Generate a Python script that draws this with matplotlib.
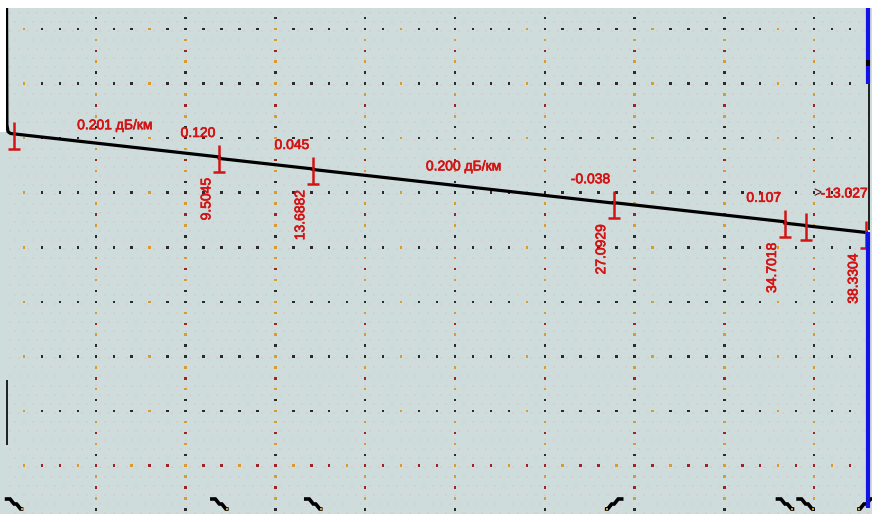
import numpy as np
import matplotlib
matplotlib.use("Agg")
import matplotlib.pyplot as plt
import matplotlib.patheffects as pe
from matplotlib.lines import Line2D
from matplotlib.patches import Rectangle

# ---------------- data ----------------
# launch part of the trace (km, dB)
launch_km = [0.02, 0.04, 0.09, 0.20]
launch_db = [3.0, -9.3, -9.85, -10.0]

# events along the fibre
event_km = [0.36, 9.5045, 13.6882, 27.0929, 34.7018, 35.62, 38.3304]
event_loss = [0.0, 0.120, 0.045, -0.038, 0.107, 0.020, 0.0]
# attenuation of the span that ends at each event (dB/km)
section_att = [0.201, 0.201, 0.200, 0.200, 0.200, 0.200, 0.200]
tail_att = 0.200

loss_idx = [1, 2, 3, 4]
loss_text = ["0.120", "0.045", "-0.038", "0.107"]
dist_idx = [1, 2, 3, 4, 6]
dist_text = ["9.5045", "13.6882", "27.0929", "34.7018", "38.3304"]
span_labels = ["0.201 дБ/км", "0.200 дБ/км"]
span_bounds = [(0.20, 9.5045), (13.6882, 27.0929)]
refl_idx = 5
refl_sign = ">"
refl_text = "-13.027"
gain_events = [3, 6]

# ---------------- layout ----------------
W, H = 872, 514
X_END = 38.40          # km at right edge
Y_TOP, Y_BOT = 0.0, -40.32
bg = "#cedcdc"
red = "#d41414"
dark = "#2a2a2a"
orange = "#d99a30"
dred = "#9c2424"
FONT = dict(fontsize=10, family="Liberation Sans")
thick = [pe.withStroke(linewidth=0.5, foreground=red)]

fig = plt.figure(figsize=(W / 100, H / 100), dpi=100, facecolor=bg)
ax = fig.add_axes([6 / W, 0, 862 / W, 506 / H])
ax.set_facecolor(bg)
ax.set_xlim(0, X_END)
ax.set_ylim(Y_BOT, Y_TOP)
ax.set_xticks([])
ax.set_yticks([])
for s in ax.spines.values():
    s.set_visible(False)

px_km = 862 / X_END           # pixels per km
px_db = 506 / (Y_TOP - Y_BOT)  # pixels per dB
PT = 0.72                      # points per pixel


def dx(p):
    return p / px_km


def dy(p):
    return p / px_db


# white strips at top / top-left
fig.patches.append(Rectangle((0, 1 - 8 / H), 1, 8 / H, transform=fig.transFigure,
                             facecolor="white", edgecolor="none", zorder=0))
fig.patches.append(Rectangle((0, 1 - 132 / H), 6 / W, 132 / H, transform=fig.transFigure,
                             facecolor="white", edgecolor="none", zorder=0))

# ---------------- grid of dots ----------------
# faint background lattice
fx = np.arange(0.2, X_END, 0.4)
fy = np.arange(Y_TOP - 0.36, Y_BOT, -0.725)
FX, FY = [], []
for j, yy in enumerate(fy):
    off = 0.2 if j % 2 else 0.0
    FX.extend(fx + off)
    FY.extend([yy] * len(fx))
ax.scatter(FX, FY, s=0.6, marker="s", color="#d8cdd0", linewidths=0, zorder=1)

grid_x = np.arange(4, X_END, 4)
grid_y0 = -1.67
grid_dy = 4.35
grid_y = grid_y0 - grid_dy * np.arange(0, 9)

# dotted vertical lines
col_cycle = [dark, orange, dred, orange, dark]
ks = np.arange(-2, 46)
vy = grid_y0 - ks * grid_dy / 5
vmask = (vy <= Y_TOP) & (vy >= Y_BOT)
vy = vy[vmask]
vcols = [col_cycle[k % 5] for k in ks[vmask]]
for gx in grid_x:
    ax.scatter([gx] * len(vy), vy, s=3.2, marker="s", c=vcols, linewidths=0, zorder=2)

# dotted horizontal lines
hx = np.arange(0.8, X_END, 0.8)
hcols = [orange if (i % 7 == 0) else dark for i in range(len(hx))]
for j, gy in enumerate(grid_y):
    cols = hcols if j < 8 else [dred if i % 3 else orange for i in range(len(hx))]
    ax.scatter(hx, [gy] * len(hx), s=3.2, marker="s", c=cols, linewidths=0, zorder=2)

# ---------------- trace ----------------
tr_km = list(launch_km)
tr_db = list(launch_db)
level = launch_db[-1]
prev = launch_km[-1]
pre_level, post_level = [], []
for km, loss, att in zip(event_km, event_loss, section_att):
    level -= att * (km - prev)
    tr_km.append(km); tr_db.append(level)
    pre_level.append(level)
    level -= loss
    tr_km.append(km); tr_db.append(level)
    post_level.append(level)
    prev = km
level -= tail_att * (X_END - prev)
tr_km.append(X_END); tr_db.append(level)

ax.plot(tr_km, tr_db, color="black", lw=2.3, solid_joinstyle="miter", zorder=5)


def trace_at(km):
    return np.interp(km, tr_km, tr_db)


# ---------------- event markers ----------------
for i, km in enumerate(event_km):
    lv = pre_level[i]
    top = lv + dy(12)
    bot = lv - dy(15)
    ax.plot([km, km], [top, bot], color=red, lw=1.8, zorder=6, solid_capstyle="butt")
    ax.plot([km - dx(6), km + dx(6)], [bot, bot], color=red, lw=1.8, zorder=6,
            solid_capstyle="butt")

# loss values
for i, t in zip(loss_idx, loss_text):
    ax.annotate(t, (event_km[i], pre_level[i]), xytext=(-4 * PT, 24 * PT),
                textcoords="offset points", ha="right", va="center",
                color=red, zorder=7, path_effects=thick, **FONT)

# distances (vertical)
for i, t in zip(dist_idx, dist_text):
    ax.annotate(t, (event_km[i], pre_level[i]), xytext=(-13 * PT, -21 * PT),
                textcoords="offset points", ha="center", va="top", rotation=90,
                color=red, zorder=7, path_effects=thick, **FONT)

# span attenuation labels
for t, (a, b) in zip(span_labels, span_bounds):
    mid = (a + b) / 2
    ax.annotate(t, (mid, trace_at(mid)), xytext=(0, 20 * PT),
                textcoords="offset points", ha="center", va="center",
                color=red, zorder=7, path_effects=thick, **FONT)

# reflectance label
ax.annotate(refl_sign, (event_km[refl_idx], pre_level[refl_idx]),
            xytext=(8 * PT, 32 * PT), textcoords="offset points",
            ha="left", va="center", color="#5a1010", zorder=7, **FONT)
ax.annotate(refl_text, (event_km[refl_idx], pre_level[refl_idx]),
            xytext=(15 * PT, 32 * PT), textcoords="offset points",
            ha="left", va="center", color=red, zorder=7, path_effects=thick, **FONT)

# ---------------- event symbols along the bottom ----------------
sym_y = Y_TOP - dy(504 - 8)
down_shape = [(-7.5, -5), (-4, -5), (0, 0), (2.5, 0), (6.5, 5), (7.5, 5)]
for i, km in enumerate(event_km):
    sgn = -1 if i in gain_events else 1
    xs = [km + dx(sgn * p[0]) for p in down_shape]
    ys = [sym_y - dy(p[1]) for p in down_shape]
    ax.plot(xs, ys, color="black", lw=2.6, solid_joinstyle="miter",
            clip_on=False, zorder=6)
    ax.scatter([xs[-1]], [ys[-1]], s=4, marker="s", color=orange, linewidths=0,
               zorder=7, clip_on=False)

# ---------------- frame edges ----------------
def vline(xp, y0, y1, color, lw):
    fig.add_artist(Line2D([xp / W, xp / W], [1 - y0 / H, 1 - y1 / H],
                          transform=fig.transFigure, color=color, lw=lw,
                          solid_capstyle="butt", zorder=8))


vline(867.5, 8, 60, "#1212e6", 3.0)
vline(867.5, 60, 66, "black", 3.0)
vline(867.5, 66, 84, "#1212e6", 3.0)
vline(868.5, 84, 230, "black", 1.2)
vline(867.5, 232, 508, "#1212e6", 3.0)
vline(6.5, 380, 445, "black", 1.2)

fig.savefig("out.png", dpi=100, facecolor=bg)
